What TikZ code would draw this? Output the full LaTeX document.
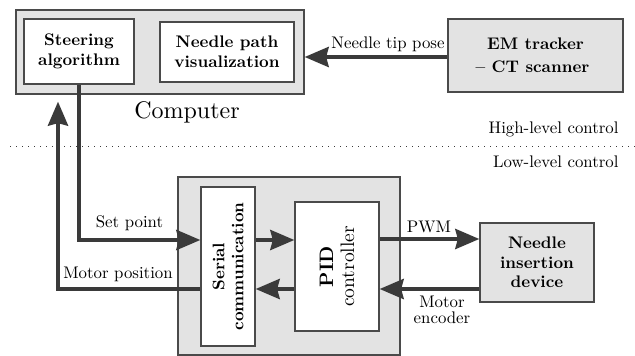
\documentclass[tikz,border=0pt]{standalone}
\usepackage{fontspec}
\setmainfont{lmroman10-regular.otf}[BoldFont=lmroman10-bold.otf]
\usetikzlibrary{arrows.meta}
\definecolor{boxgray}{HTML}{E3E3E3}
\definecolor{linegray}{HTML}{3A3A3A}
\definecolor{edgegray}{HTML}{4A4A4A}
\begin{document}
\begin{tikzpicture}[x=1pt,y=-1pt,
  font=\fontsize{16.8}{20}\selectfont,
  graybox/.style={draw=edgegray,line width=1.3pt,fill=boxgray,inner sep=0pt},
  whitebox/.style={draw=edgegray,line width=1.3pt,fill=white,inner sep=0pt,align=center,font=\fontsize{16.8}{20}\selectfont\bfseries},
  arr/.style={draw=linegray,line width=3.9pt,-{Stealth[length=24pt,width=20pt,inset=2.5pt]}},
  lbl/.style={inner sep=1pt,align=center}]
\useasboundingbox (0,0) rectangle (635,356);
% Computer
\node[graybox,minimum width=288pt,minimum height=84pt] (comp) at (160,52) {};
\node[whitebox,minimum width=110pt,minimum height=65pt] (steer) at (79,51.5) {Steering\\algorithm};
\node[whitebox,minimum width=134pt,minimum height=60pt] (viz) at (227,52) {Needle path\\visualization};
\node[font=\fontsize{24}{28}\selectfont] (complbl) at (187,112) {Computer};
% EM tracker
\node[graybox,minimum width=175pt,minimum height=73pt,align=center,font=\fontsize{16.8}{23}\selectfont\bfseries] (em) at (535.5,55.5) {EM tracker\\\hspace*{-6pt}-- CT scanner};
% divider
\coordinate (dl) at (10,146);
\coordinate (dr) at (635,146);
\draw[line width=1pt,dash pattern=on 1.2pt off 4.8pt,draw=linegray] (dl) -- (dr);
\node[anchor=east] (hl) at (622,129) {High-level control};
\node[anchor=east] (ll) at (622,162) {Low-level control};
% Lower box
\node[graybox,minimum width=222pt,minimum height=178pt] (low) at (289,266) {};
\node[whitebox,minimum width=54pt,minimum height=159pt] (serial) at (228,266.5) {};
\node[rotate=90,align=center,font=\fontsize{16.8}{19}\selectfont\bfseries] (serialtxt) at (serial.center) {Serial\\communication};
\node[whitebox,minimum width=84pt,minimum height=129pt] (pid) at (337,266.5) {};
\node[rotate=90,align=center,font=\fontsize{19.5}{21}\selectfont] (pidtxt) at (pid.center) {\textbf{PID}\\controller};
\node[graybox,minimum width=114pt,minimum height=79pt,align=center,font=\fontsize{16.8}{19.5}\selectfont\bfseries] (dev) at (537,262.5) {Needle\\insertion\\device};
% connectors
\draw[arr] (em.west |- 0,57) -- (comp.east |- 0,57);
\node[lbl] (tiplbl) at (388,44) {Needle tip pose};
\draw[arr] (steer.south) |- (serial.west |- 0,240);
\node[lbl] (setlbl) at (129.5,223) {Set point};
\coordinate (mpcorner) at (58,289);
\draw[arr,shorten >=7pt] (serial.west |- 0,289) -- (mpcorner) -- (comp.south -| mpcorner);
\node[lbl] (mplbl) at (118,274) {Motor position};
\draw[arr] (serial.east |- 0,240) -- (pid.west |- 0,240);
\draw[arr] (pid.west |- 0,289) -- (serial.east |- 0,289);
\draw[arr] (pid.east |- 0,239) -- (dev.west |- 0,239);
\node[lbl] (pwmlbl) at (429,227) {PWM};
\draw[arr] (dev.west |- 0,289) -- (pid.east |- 0,289);
\node[lbl,font=\fontsize{16.8}{16}\selectfont] (enclbl) at (442,309.5) {Motor\\encoder};
\end{tikzpicture}
\end{document}
